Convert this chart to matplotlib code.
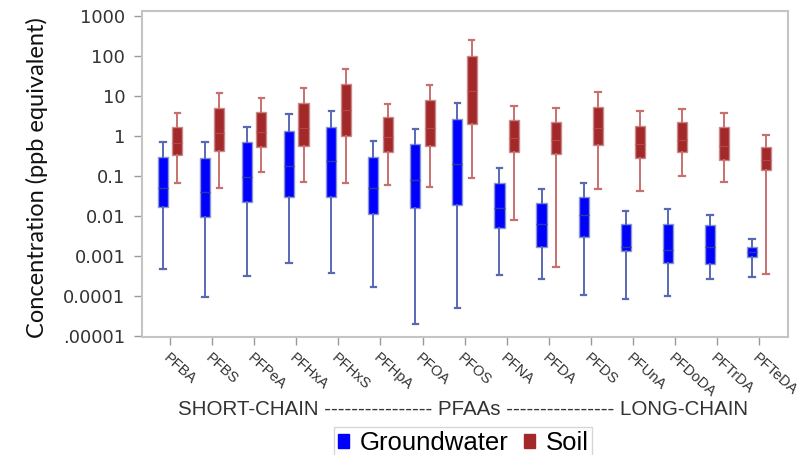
import matplotlib
matplotlib.use("Agg")
import matplotlib.pyplot as plt
from matplotlib.patches import Patch
from matplotlib.ticker import FixedLocator, NullLocator

compounds = ["PFBA", "PFBS", "PFPeA", "PFHxA", "PFHxS", "PFHpA", "PFOA", "PFOS",
             "PFNA", "PFDA", "PFDS", "PFUnA", "PFDoDA", "PFTrDA", "PFTeDA"]

gw_whislo = [0.00048, 0.000096, 0.00032, 0.00066, 0.00038, 0.000165, 0.00002, 0.000049,
             0.00033, 0.00026, 0.000104, 0.000083, 0.000098, 0.00026, 0.0003]
gw_q1 = [0.0165, 0.0093, 0.022, 0.03, 0.029, 0.011, 0.0155, 0.0185,
         0.005, 0.0017, 0.0029, 0.00136, 0.00066, 0.00062, 0.00093]
gw_med = [0.051, 0.039, 0.096, 0.18, 0.23, 0.051, 0.079, 0.2,
          0.0155, 0.0064, 0.0105, 0.0017, 0.0014, 0.0017, 0.00124]
gw_q3 = [0.30, 0.28, 0.72, 1.36, 1.7, 0.29, 0.62, 2.7,
         0.068, 0.021, 0.03, 0.0063, 0.0063, 0.0059, 0.00165]
gw_whishi = [0.72, 0.69, 1.7, 3.5, 4.3, 0.74, 1.5, 6.7,
             0.155, 0.046, 0.068, 0.0133, 0.0147, 0.0104, 0.0027]

soil_whislo = [0.068, 0.051, 0.126, 0.072, 0.066, 0.059, 0.054, 0.089,
               0.0079, 0.00053, 0.048, 0.041, 0.1, 0.072, 0.00035]
soil_q1 = [0.33, 0.41, 0.52, 0.55, 0.98, 0.39, 0.55, 2.0,
           0.39, 0.35, 0.58, 0.28, 0.39, 0.25, 0.14]
soil_med = [0.65, 1.17, 1.24, 1.6, 4.5, 0.93, 1.6, 13.6,
            0.87, 0.79, 1.56, 0.63, 0.79, 0.56, 0.25]
soil_q3 = [1.7, 5.0, 4.0, 6.7, 19.6, 2.9, 7.9, 100,
           2.5, 2.24, 5.3, 1.8, 2.28, 1.65, 0.52]
soil_whishi = [3.8, 11.7, 8.7, 15.5, 48, 6.3, 18.5, 247,
               5.6, 5.0, 12.6, 4.3, 4.7, 3.8, 1.08]

ytick_vals = [1e-5, 1e-4, 1e-3, 1e-2, 1e-1, 1, 10, 100, 1000]
ytick_labels = [".00001", "0.0001", "0.001", "0.01", "0.1", "1", "10", "100", "1000"]

series_names = ["Groundwater", "Soil"]

def stats(lo, q1, med, q3, hi):
    return [dict(whislo=a, q1=b, med=c, q3=d, whishi=e, fliers=[])
            for a, b, c, d, e in zip(lo, q1, med, q3, hi)]

fig = plt.figure(figsize=(8, 4.55), dpi=100)
ax = fig.add_axes([0.1775, 0.2593, 0.8075, 0.7167])

n = len(compounds)
xs = list(range(n))
off = 0.17
w = 0.24

gw_col, gw_edge, gw_wh = "#0000ff", "#8a96d0", "#5868b4"
so_col, so_edge, so_wh = "#a3282a", "#c88a8a", "#c87070"

ax.bxp(stats(gw_whislo, gw_q1, gw_med, gw_q3, gw_whishi),
       positions=[x - off for x in xs], widths=w, capwidths=0.13,
       patch_artist=True, showfliers=False,
       boxprops=dict(facecolor=gw_col, edgecolor=gw_edge, linewidth=1.0),
       whiskerprops=dict(color=gw_wh, linewidth=1.4),
       capprops=dict(color=gw_wh, linewidth=1.6),
       medianprops=dict(color="#2a3aa0", linewidth=1.0))
ax.bxp(stats(soil_whislo, soil_q1, soil_med, soil_q3, soil_whishi),
       positions=[x + off for x in xs], widths=w, capwidths=0.13,
       patch_artist=True, showfliers=False,
       boxprops=dict(facecolor=so_col, edgecolor=so_edge, linewidth=1.0),
       whiskerprops=dict(color=so_wh, linewidth=1.4),
       capprops=dict(color=so_wh, linewidth=1.6),
       medianprops=dict(color="#b24a4a", linewidth=0.8))

ax.set_yscale("log")
ax.set_ylim(9.44e-6, 1334)
ax.set_xlim(-0.67, n - 1 + 0.69)
ax.yaxis.set_major_locator(FixedLocator(ytick_vals))
ax.yaxis.set_minor_locator(NullLocator())
ax.set_yticklabels(ytick_labels, fontsize=13, color="#333333", family="DejaVu Sans")
ax.set_xticks(xs)
ax.set_xticklabels(compounds, rotation=-42, ha="left", va="top",
                   rotation_mode="anchor", fontsize=10.5, color="#333333",
                   family="Liberation Sans")
ax.tick_params(axis="both", direction="out", length=6, color="#999999", width=1)
ax.tick_params(axis="x", pad=4)
ax.tick_params(axis="y", pad=6)
for s in ax.spines.values():
    s.set_color("#c4c4c4")
    s.set_linewidth(1.5)

ax.set_ylabel("Concentration (ppb equivalent)", fontsize=17, family="Lato",
              color="#111111")
ax.yaxis.set_label_coords(-0.145, 0.49)

fig.text(0.579, 0.099,
         "SHORT-CHAIN ---------------- PFAAs ---------------- LONG-CHAIN",
         ha="center", va="center", fontsize=14.8, color="#333333",
         family="Liberation Sans")

handles = [Patch(facecolor=gw_col, edgecolor=gw_col), Patch(facecolor=so_col, edgecolor=so_col)]
leg = fig.legend(handles, series_names, loc="upper center",
                 bbox_to_anchor=(0.579, 1 - 427 / 455), ncol=2, frameon=True,
                 fancybox=False, edgecolor="#cccccc",
                 prop=dict(family="Liberation Sans", size=18.5),
                 handlelength=0.45, handleheight=0.45, handletextpad=0.4,
                 columnspacing=0.6, borderpad=0.15, borderaxespad=0)
leg.get_frame().set_linewidth(1.0)

fig.savefig("out.png", dpi=100)
